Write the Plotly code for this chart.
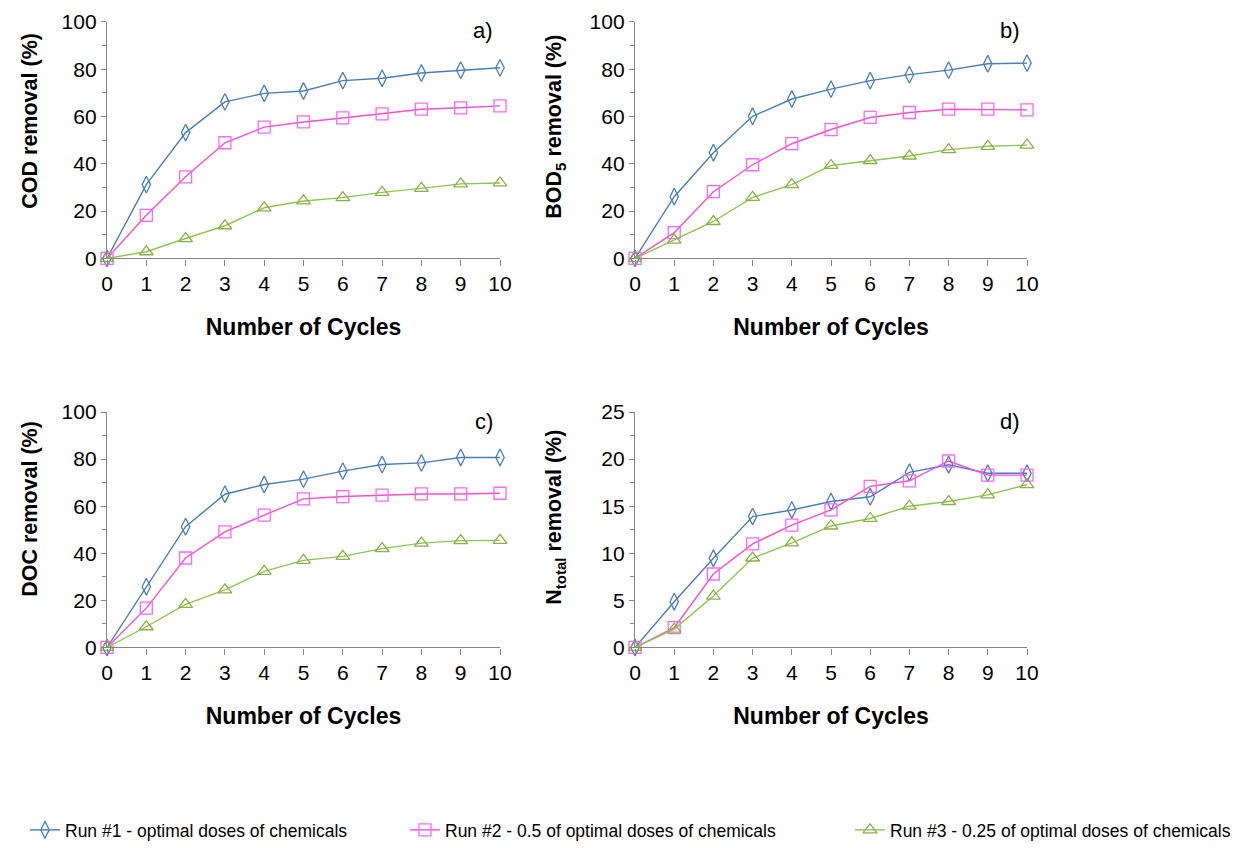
import plotly.graph_objects as go

cycles = [0, 1, 2, 3, 4, 5, 6, 7, 8, 9, 10]

# COD removal (%)
cod_run1 = [0, 31.2, 53.2, 66.2, 69.8, 70.8, 75.2, 76.2, 78.4, 79.6, 80.6]
cod_run2 = [0, 18.2, 34.5, 48.9, 55.5, 57.7, 59.4, 61.1, 63.1, 63.7, 64.5]
cod_run3 = [0, 2.8, 8.4, 13.8, 21.4, 24.3, 25.7, 27.9, 29.6, 31.5, 31.9]

# BOD5 removal (%)
bod_run1 = [0, 26.1, 44.7, 60.1, 67.4, 71.6, 75.2, 77.7, 79.6, 82.3, 82.6]
bod_run2 = [0, 10.9, 28.2, 39.6, 48.5, 54.5, 59.6, 61.7, 63.1, 63.1, 62.8]
bod_run3 = [0, 7.7, 15.6, 25.8, 31.2, 39.3, 41.4, 43.3, 46.0, 47.4, 47.9]

# DOC removal (%)
doc_run1 = [0, 25.8, 51.3, 65.1, 69.2, 71.5, 74.9, 77.7, 78.4, 80.7, 80.7]
doc_run2 = [0, 16.7, 38.0, 49.1, 56.2, 63.1, 64.1, 64.7, 65.2, 65.2, 65.5]
doc_run3 = [0, 8.8, 18.3, 24.5, 32.3, 37.0, 38.7, 42.0, 44.3, 45.4, 45.5]

# N total removal (%)
nt_run1 = [0, 4.86, 9.47, 13.9, 14.6, 15.5, 16.0, 18.6, 19.4, 18.5, 18.5]
nt_run2 = [0, 2.1, 7.8, 11.0, 13.0, 14.6, 17.1, 17.7, 19.8, 18.3, 18.3]
nt_run3 = [0, 1.95, 5.46, 9.5, 11.1, 12.9, 13.7, 15.0, 15.5, 16.2, 17.3]

run_names = [
    "Run #1 - optimal doses of chemicals",
    "Run #2 - 0.5 of optimal doses of chemicals",
    "Run #3 - 0.25 of optimal doses of chemicals",
]
y_titles = [
    "COD removal (%)",
    "BOD<sub>5</sub> removal (%)",
    "DOC removal (%)",
    "N<sub>total</sub> removal (%)",
]
panel_tags = ["a)", "b)", "c)", "d)"]
y_max = [100, 100, 100, 25]
y_dtick = [20, 20, 20, 5]

panels = [
    (cod_run1, cod_run2, cod_run3),
    (bod_run1, bod_run2, bod_run3),
    (doc_run1, doc_run2, doc_run3),
    (nt_run1, nt_run2, nt_run3),
]

W, H = 1248, 848
# panel frames in pixels: (left, right, top, bottom)
frames = [
    (107, 500, 22, 259),
    (635, 1027, 22, 259),
    (107, 500, 413, 649),
    (635, 1027, 413, 649),
]
# y-title anchor points in pixels (x centre, y centre)
ytitle_pos = [(30, 121), (556, 127), (30, 510), (556, 519)]

styles = [
    dict(line="#4A7EBB", marker="#4A7EBB", symbol="diamond-tall-open"),
    dict(line="#FF4FC8", marker="#FF66FF", symbol="square-open"),
    dict(line="#8CC850", marker="#8DB04A", symbol="triangle-up-open"),
]
legend_ids = ["legend", "legend2", "legend3"]
legend_left_px = [25, 405, 850]

FONT = "Liberation Sans, Arial, sans-serif"
AXIS_GREY = "#868686"

fig = go.Figure()

for i, series in enumerate(panels):
    n = "" if i == 0 else str(i + 1)
    for k, ys in enumerate(series):
        st = styles[k]
        fig.add_trace(go.Scatter(
            x=cycles, y=ys, mode="lines+markers",
            name=run_names[k],
            legend=legend_ids[k],
            showlegend=(i == 0),
            line=dict(color=st["line"], width=1.4),
            marker=dict(symbol=st["symbol"], size=12,
                        color=st["marker"], line=dict(width=1.3, color=st["marker"])),
            cliponaxis=False,
            xaxis="x" + n, yaxis="y" + n,
        ))

    l, r, t, b = frames[i]
    xdom = [l / W, r / W]
    ydom = [1 - b / H, 1 - t / H]
    fig.layout["xaxis" + n] = dict(
        domain=xdom, anchor="y" + n, range=[0, 10], tickmode="linear",
        tick0=0, dtick=1, ticks="outside", ticklen=6, tickcolor=AXIS_GREY,
        showline=True, linecolor=AXIS_GREY, linewidth=1.3, showgrid=False,
        zeroline=False, automargin=False,
        tickfont=dict(family=FONT, size=21, color="#000"),
        title=dict(text="<b>Number of Cycles</b>", standoff=25,
                   font=dict(family=FONT, size=23, color="#000")),
    )
    fig.layout["yaxis" + n] = dict(
        domain=ydom, anchor="x" + n, range=[0, y_max[i]], tickmode="linear",
        tick0=0, dtick=y_dtick[i], ticks="outside", ticklen=5, tickcolor=AXIS_GREY,
        minor=dict(dtick=y_dtick[i] / 2, ticks="outside", ticklen=4, tickcolor=AXIS_GREY),
        showline=True, linecolor=AXIS_GREY, linewidth=1.3, showgrid=False,
        zeroline=False, automargin=False,
        tickfont=dict(family=FONT, size=21, color="#000"),
    )
    tx, ty = ytitle_pos[i]
    fig.add_annotation(
        x=tx / W, y=1 - ty / H, xref="paper", yref="paper",
        text="<b>" + y_titles[i] + "</b>", textangle=-90, showarrow=False,
        xanchor="center", yanchor="middle",
        font=dict(family=FONT, size=21.5, color="#000"),
    )
    fig.add_annotation(
        x=r / W - 0.004, y=1 - (t + 9) / H, xref="paper", yref="paper",
        text=panel_tags[i], showarrow=False, xanchor="right", yanchor="middle",
        font=dict(family=FONT, size=22, color="#000"),
    )

legend_common = dict(
    orientation="h", yanchor="middle", y=1 - 832 / H,
    font=dict(family=FONT, size=17.5, color="#000"),
    itemwidth=30, bgcolor="rgba(0,0,0,0)", borderwidth=0,
)
layout_legends = {}
for k, lid in enumerate(legend_ids):
    layout_legends[lid] = dict(legend_common, x=legend_left_px[k] / W, xanchor="left")

fig.update_layout(
    width=W, height=H, autosize=False,
    margin=dict(l=0, r=0, t=0, b=0),
    paper_bgcolor="white", plot_bgcolor="white",
    showlegend=True,
    **layout_legends,
)

fig.write_html("out.html")
